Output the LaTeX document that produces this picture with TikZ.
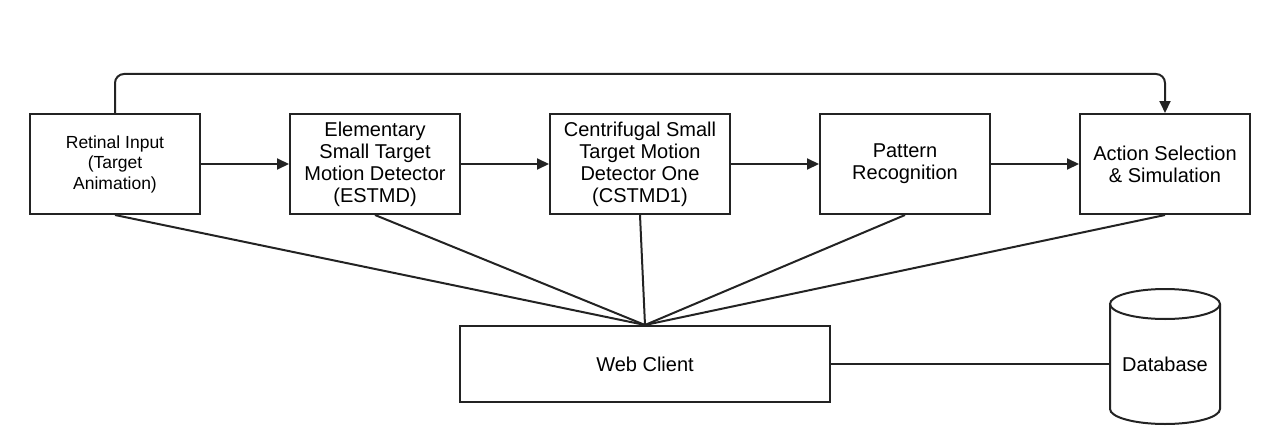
\documentclass[tikz,border=0pt]{standalone}
\usepackage{fontspec}
\setmainfont{Liberation Sans}
\usetikzlibrary{arrows.meta}
\definecolor{ln}{RGB}{35,35,35}
\begin{document}
\begin{tikzpicture}[x=1pt,y=-1pt,
  box/.style={draw=ln,line width=2pt,fill=white,minimum width=170pt,minimum height=100pt,align=center,inner sep=2pt,font=\fontsize{20}{22}\selectfont},
  conn/.style={draw=ln,line width=2pt},
  arr/.style={conn,-{Triangle[length=12pt,width=11pt]}}]
\useasboundingbox (0,0) rectangle (1274,444);
\node[box,font=\fontsize{17.5}{20.5}\selectfont] (ret) at (115,164) {Retinal Input\\(Target\\Animation)};
\node[box] (est) at (375,164) {Elementary\\Small Target\\Motion Detector\\(ESTMD)};
\node[box,minimum width=180pt] (cst) at (640,164) {Centrifugal Small\\Target Motion\\Detector One\\(CSTMD1)};
\node[box] (pat) at (905,164) {Pattern\\Recognition};
\node[box] (act) at (1165,164) {Action Selection\\\& Simulation};
\node[box,minimum width=370pt,minimum height=76pt] (web) at (645,364) {Web Client};
% database cylinder
\draw[conn,fill=white] (1110,304) -- (1110,409) arc[start angle=180,end angle=360,x radius=55pt,y radius=15pt] -- (1220,304);
\draw[conn] (1165,304) ellipse[x radius=55pt,y radius=15pt];
\node[font=\fontsize{20}{22}\selectfont,minimum width=110pt,inner sep=0pt] (db) at (1165,364) {Database};
% connectors
\draw[arr] (ret) -- (est);
\draw[arr] (est) -- (cst);
\draw[arr] (cst) -- (pat);
\draw[arr] (pat) -- (act);
\draw[arr,rounded corners=9pt] (ret.north) -- ([yshift=39pt]ret.north) -| (act.north);
\draw[conn] (ret.south) -- (web.north);
\draw[conn] (est.south) -- (web.north);
\draw[conn] (cst.south) -- (web.north);
\draw[conn] (pat.south) -- (web.north);
\draw[conn] (act.south) -- (web.north);
\draw[conn] (web.east) -- (db.west);
\end{tikzpicture}
\end{document}
